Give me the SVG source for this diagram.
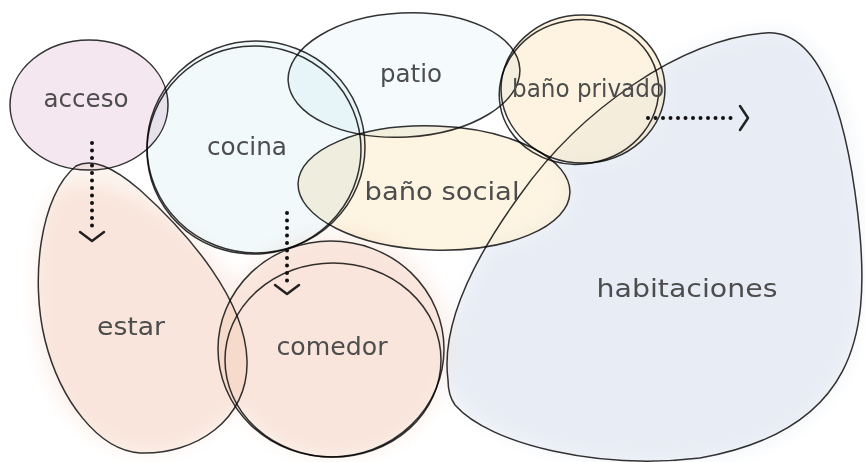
<svg xmlns="http://www.w3.org/2000/svg" width="865" height="462" viewBox="0 0 865 462">
<defs>
<style>
.ln{stroke:#333;stroke-width:1.5;mix-blend-mode:multiply}
.nf{fill:none}
.lbl{font-family:"DejaVu Sans","Liberation Sans",sans-serif;font-size:24px;fill:#4d4d4d;text-anchor:middle}
.dot{fill:none;stroke:#111;stroke-width:4;stroke-linecap:round;stroke-dasharray:0 7.5}
.chev{fill:none;stroke:#222;stroke-width:2.5;stroke-linecap:round;stroke-linejoin:round}
</style>
<filter id="blur" x="-20%" y="-20%" width="140%" height="140%"><feGaussianBlur stdDeviation="9"/></filter>
<mask id="habMask" maskUnits="userSpaceOnUse" x="0" y="0" width="865" height="462">
<rect width="865" height="462" fill="#fff"/>
<ellipse cx="434" cy="188" rx="136" ry="62" transform="rotate(2 434 188)" fill="#000"/>
<ellipse cx="583" cy="89" rx="82" ry="74" fill="#555"/>
</mask>
</defs>
<rect width="865" height="462" fill="#fff"/>
<g id="glow" filter="url(#blur)">
<path d="M60,190 C110,170 190,220 250,300 C270,340 260,420 170,450 C100,460 45,410 38,330 C32,260 40,205 60,190 Z" fill="#fcf0ea"/>
<ellipse cx="335" cy="345" rx="115" ry="112" fill="#fcf0ea"/>
<path d="M450,385 C440,320 480,250 530,180 C590,100 690,35 770,30 C830,26 860,130 862,240 C866,340 850,440 700,460 C590,470 470,440 450,385 Z" fill="#f3f5f9" mask="url(#habMask)"/>
</g>
<g id="habitaciones">
<path fill="#f4f6fa" mask="url(#habMask)" style="mix-blend-mode:multiply" d="M448,380 C440,320 480,250 520,195 C580,110 680,40 765,33 C825,28 850,130 860,235 C868,330 858,430 700,458 C600,470 490,445 455,405 C450,398 448,390 448,380 Z"/>
<path class="ln nf" d="M448,380 C440,320 480,250 520,195 C580,110 680,40 765,33 C825,28 850,130 860,235 C868,330 858,430 700,458 C600,470 490,445 455,405 C450,398 448,390 448,380 Z"/>
<text class="lbl" x="687" y="297" textLength="181" lengthAdjust="spacingAndGlyphs">habitaciones</text>
</g>
<g id="estar">
<path class="ln" fill="#fcf4ef" d="M76,166 C92,158 112,166 140,190 C190,235 245,300 247,360 C249,420 195,455 140,453 C98,450 60,400 45,340 C30,280 40,195 76,166 Z"/>
<text class="lbl" x="131" y="335" textLength="68" lengthAdjust="spacingAndGlyphs">estar</text>
</g>
<g id="comedor">
<ellipse class="ln" fill="#fcf4ef" cx="331" cy="349" rx="113" ry="108"/>
<ellipse class="ln nf" cx="333" cy="360" rx="108" ry="97"/>
<text class="lbl" x="332" y="355" textLength="111" lengthAdjust="spacingAndGlyphs">comedor</text>
</g>
<g id="acceso">
<ellipse class="ln" fill="#f4e7ef" cx="89" cy="105" rx="79" ry="65"/>
<text class="lbl" x="86" y="107" textLength="85" lengthAdjust="spacingAndGlyphs">acceso</text>
</g>
<g id="cocina">
<ellipse class="ln" fill="#f1f9fb" cx="256" cy="147" rx="109" ry="106"/>
<ellipse class="ln nf" cx="254" cy="150" rx="107" ry="104" transform="rotate(-6 254 150)"/>
<text class="lbl" x="247" y="155" textLength="80" lengthAdjust="spacingAndGlyphs">cocina</text>
</g>
<g id="patio">
<ellipse class="ln" fill="#f5fafc" cx="404" cy="75" rx="116" ry="62" transform="rotate(-3 404 75)"/>
<text class="lbl" x="411" y="82" textLength="62" lengthAdjust="spacingAndGlyphs">patio</text>
</g>
<g id="bano-social">
<ellipse class="ln" fill="#fdf4e2" cx="434" cy="188" rx="136" ry="62" transform="rotate(2 434 188)"/>
<text class="lbl" x="442" y="200" textLength="155" lengthAdjust="spacingAndGlyphs">baño social</text>
</g>
<g id="bano-privado">
<ellipse class="ln" fill="#fdf3e0" cx="583" cy="89" rx="82" ry="74"/>
<ellipse class="ln nf" cx="579" cy="92" rx="80" ry="72" transform="rotate(-10 579 92)"/>
<text class="lbl" x="588" y="97" textLength="152" lengthAdjust="spacingAndGlyphs">baño privado</text>
</g>
<g id="connectors">
<line class="dot" x1="92" y1="143" x2="92" y2="229"/>
<path class="chev" d="M80,232 L92,241 L104,232"/>
<line class="dot" x1="287" y1="213" x2="287" y2="282"/>
<path class="chev" d="M275,285 L287,294 L299,285"/>
<line class="dot" x1="648" y1="118" x2="736" y2="118"/>
<path class="chev" d="M740,106 L748,118 L740,130"/>
</g>
</svg>
